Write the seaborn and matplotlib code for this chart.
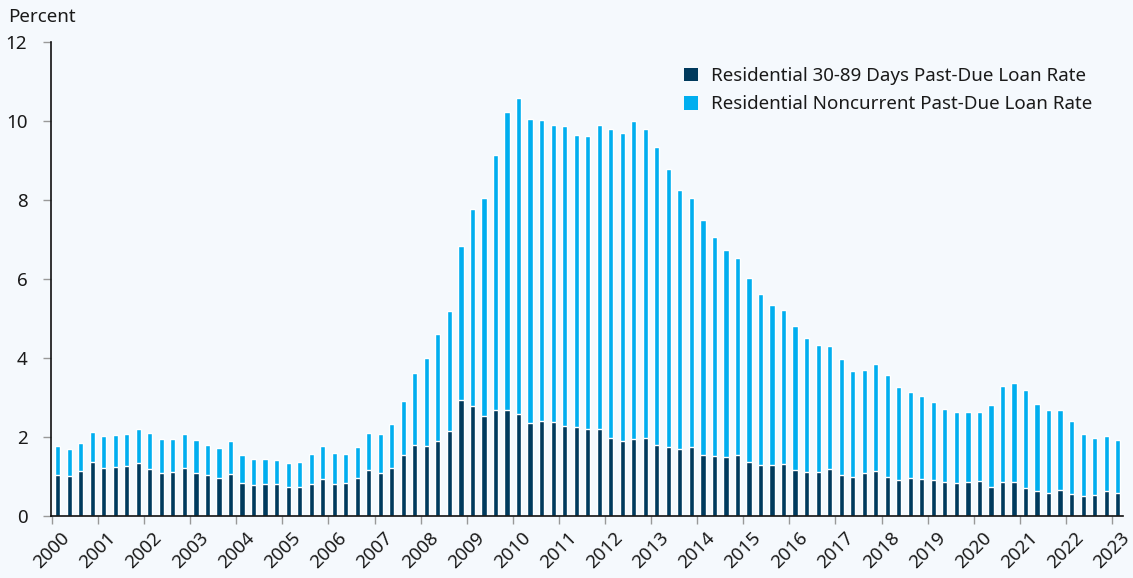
import numpy as np
import pandas as pd
import matplotlib
matplotlib.use("Agg")
import matplotlib.pyplot as plt
import seaborn as sns
from matplotlib.patches import Patch

# ---- data (quarterly, 2000Q1 .. 2023Q1) ----
years = list(range(2000, 2024))
quarters = [f"{y}Q{q}" for y in range(2000, 2024) for q in range(1, 5)][:93]

past_due_30_89 = [
    1.04, 1.02, 1.14, 1.37, 1.22, 1.24, 1.27, 1.35, 1.19, 1.09, 1.12, 1.22,
    1.09, 1.03, 0.97, 1.06, 0.83, 0.79, 0.82, 0.82, 0.74, 0.74, 0.82, 0.94,
    0.82, 0.83, 0.96, 1.17, 1.09, 1.22, 1.54, 1.80, 1.77, 1.91, 2.14, 2.93,
    2.78, 2.54, 2.68, 2.68, 2.59, 2.36, 2.41, 2.39, 2.27, 2.25, 2.19, 2.19,
    1.97, 1.90, 1.94, 1.97, 1.80, 1.75, 1.70, 1.75, 1.54, 1.52, 1.50, 1.54,
    1.37, 1.30, 1.30, 1.32, 1.17, 1.12, 1.11, 1.19, 1.05, 0.99, 1.10, 1.13,
    0.99, 0.92, 0.96, 0.94, 0.91, 0.86, 0.84, 0.87, 0.89, 0.74, 0.86, 0.87,
    0.72, 0.64, 0.59, 0.65, 0.56, 0.51, 0.54, 0.63, 0.58,
]

noncurrent = [
    0.73, 0.68, 0.71, 0.76, 0.80, 0.81, 0.80, 0.84, 0.90, 0.85, 0.84, 0.86,
    0.83, 0.76, 0.75, 0.83, 0.71, 0.65, 0.62, 0.59, 0.59, 0.62, 0.74, 0.83,
    0.77, 0.74, 0.79, 0.92, 0.99, 1.11, 1.38, 1.82, 2.22, 2.71, 3.06, 3.90,
    4.98, 5.50, 6.45, 7.56, 7.98, 7.69, 7.62, 7.51, 7.60, 7.40, 7.44, 7.71,
    7.84, 7.80, 8.07, 7.82, 7.54, 7.04, 6.55, 6.29, 5.96, 5.54, 5.23, 4.99,
    4.65, 4.31, 4.05, 3.90, 3.64, 3.38, 3.21, 3.11, 2.92, 2.68, 2.60, 2.71,
    2.57, 2.35, 2.18, 2.09, 1.98, 1.85, 1.79, 1.77, 1.75, 2.08, 2.44, 2.49,
    2.46, 2.20, 2.09, 2.04, 1.84, 1.57, 1.43, 1.39, 1.34,
]

label_dark = "Residential 30-89 Days Past-Due Loan Rate"
label_light = "Residential Noncurrent Past-Due Loan Rate"

DARK = "#003a5d"
LIGHT = "#00aeef"
BG = "#f5f9fd"
TXT = "#1a1a1a"
FS = 13.5

df = pd.DataFrame({
    "quarter": quarters,
    "dark": past_due_30_89,
    "light": noncurrent,
})
df["total"] = df["dark"] + df["light"]

sns.set_theme(style="white")
plt.rcParams["font.family"] = ["Noto Sans", "DejaVu Sans"]

fig = plt.figure(figsize=(11.33, 5.78), dpi=100, facecolor=BG)
ax = fig.add_axes([51 / 1133, 1 - 516 / 578, (1123 - 51) / 1133, (516 - 42) / 578])
ax.set_facecolor(BG)

sns.barplot(data=df, x="quarter", y="total", color=LIGHT, width=0.45,
            saturation=1, ax=ax, order=quarters)
sns.barplot(data=df, x="quarter", y="dark", color=DARK, width=0.45,
            saturation=1, ax=ax, order=quarters)

ax.set_xlim(-0.58, 92.46)
ax.set_ylim(0, 12)
ax.set_xlabel("")
ax.set_ylabel("")

ax.set_xticks([4 * i - 0.5 for i in range(len(years))])
ax.set_xticklabels([str(y) for y in years], rotation=45, ha="center",
                   fontsize=FS, color=TXT)
ax.set_yticks(range(0, 13, 2))
ax.set_yticklabels([str(v) for v in range(0, 13, 2)], fontsize=FS, color=TXT)

ax.tick_params(axis="y", left=True, length=6, width=1, color="#999999", pad=11)
ax.tick_params(axis="x", bottom=True, length=6, width=1, color="#999999", pad=3)

for s in ["top", "right"]:
    ax.spines[s].set_visible(False)
for s in ["left", "bottom"]:
    ax.spines[s].set_color("#111111")
    ax.spines[s].set_linewidth(1.2)

fig.text(8 / 1133, 1 - 17 / 578, "Percent", fontsize=FS, color=TXT,
         ha="left", va="center")

handles = [Patch(facecolor=DARK, edgecolor="none", label=label_dark),
           Patch(facecolor=LIGHT, edgecolor="none", label=label_light)]
ax.legend(handles=handles, loc="upper left",
          bbox_to_anchor=(684 / 1133, 1 - 67 / 578), bbox_transform=fig.transFigure,
          frameon=False, fontsize=FS, handlelength=0.75, handleheight=0.75,
          handletextpad=0.7, labelspacing=0.55, borderaxespad=0, borderpad=0,
          labelcolor=TXT)

fig.savefig("out.png", dpi=100, facecolor=BG)
